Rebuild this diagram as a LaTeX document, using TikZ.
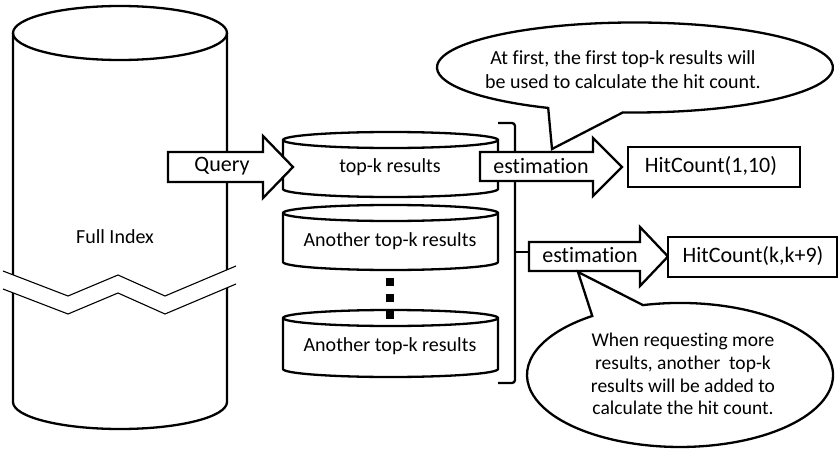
\documentclass[tikz,border=0pt]{standalone}
\usepackage{fontspec}
\setmainfont{Carlito}[Ligatures={NoCommon,NoContextual}]
\tikzset{
  shp/.style={draw=black, line width=2.3pt, fill=white, line join=miter},
  thinln/.style={draw=black, line width=1.1pt},
  lbl/.style={font=\fontsize{20}{24}\selectfont, inner sep=0pt},
  biglbl/.style={font=\fontsize{22}{26}\selectfont, inner sep=0pt},
  smalllbl/.style={font=\fontsize{19.5}{22.7}\selectfont, inner sep=0pt, align=center},
}
\begin{document}
\begin{tikzpicture}[x=1pt,y=-1pt]
\useasboundingbox[fill=white] (0,0) rectangle (839,450);

% big cylinder
\filldraw[shp] (13,33) -- (13,402) arc[start angle=180,end angle=0,x radius=107,y radius=27]
  -- (227,33) arc[start angle=0,end angle=-180,x radius=107,y radius=27] -- cycle;
\draw[shp, fill=none] (13,33) arc[start angle=180,end angle=0,x radius=107,y radius=27];
\node[lbl] (full) at (115,237) {Full Index};

% break
\fill[white] (3,271)--(68,296)--(118,275)--(165,296)--(236,266)--(236,284)--(165,314)--(118,293)--(68,314)--(3,289)--cycle;
\draw[thinln] (3,271)--(68,296)--(118,275)--(165,296)--(236,266);
\draw[thinln] (3,289)--(68,314)--(118,293)--(165,314)--(236,284);

% small cylinders
\foreach \tc/\bc in {140/189, 213/262, 318/369}{
  \filldraw[shp] (283,\tc) -- (283,\bc) arc[start angle=180,end angle=0,x radius=107.5,y radius=8]
    -- (498,\tc) arc[start angle=0,end angle=-180,x radius=107.5,y radius=8] -- cycle;
  \draw[shp, fill=none] (283,\tc) arc[start angle=180,end angle=0,x radius=107.5,y radius=8];
}
\node[lbl] (topk) at (390,167) {top-k results};
\node[lbl] (another1) at (390,241) {Another top-k results};
\node[lbl] (another2) at (390,346) {Another top-k results};

% dots
\foreach \yy in {282,298,315}{
  \fill[black] (386,\yy-4) rectangle (394,\yy+4);
}

% bracket
\draw[line width=2.3pt, rounded corners=3pt] (498,123) -- (515,123) -- (515,383) -- (498,383);
\draw[line width=2.3pt] (515,252) -- (529,252);

% query arrow
\filldraw[shp] (168,152) -- (263,152) -- (263,136) -- (293,167) -- (263,198) -- (263,182) -- (168,182) -- cycle;
\node[biglbl] (query) at (222,166) {Query};

% estimation arrows
\filldraw[shp] (480,152) -- (593,152) -- (593,138) -- (622,167) -- (593,196) -- (593,181) -- (480,181) -- cycle;
\node[biglbl] (est1) at (541,166) {est\kern0pt imation};
\filldraw[shp] (529,242) -- (640,242) -- (640,227) -- (668,256.5) -- (640,286) -- (640,271) -- (529,271) -- cycle;
\node[biglbl] (est2) at (590,255) {est\kern0pt imation};

% result boxes
\filldraw[shp] (628,147) rectangle (800,187);
\node[biglbl] (hc1) at (711,166) {HitCount(1,10)};
\filldraw[shp] (668,237) rectangle (837,277);
\node[biglbl] (hc2) at (753,256) {HitCount(k,k+9)};

% callout 1
\filldraw[shp] (622.9,112.4) arc[start angle=93.5,end angle=-244,x radius=198,y radius=45] -- (552,149) -- cycle;
\node[lbl, align=center] (note1) at (623,70) {At first, the first top-k results will\\be used to calculate the hit count.};

% callout 2
\filldraw[shp] (643,305.1) arc[start angle=-104,end angle=235,x radius=153,y radius=72] -- (578,272) -- cycle;
\node[smalllbl] (note2) at (683,374) {When request\kern0pt ing more\\results, another\ \ top-k\\results will be added to\\calculate the hit count.};
\end{tikzpicture}
\end{document}
